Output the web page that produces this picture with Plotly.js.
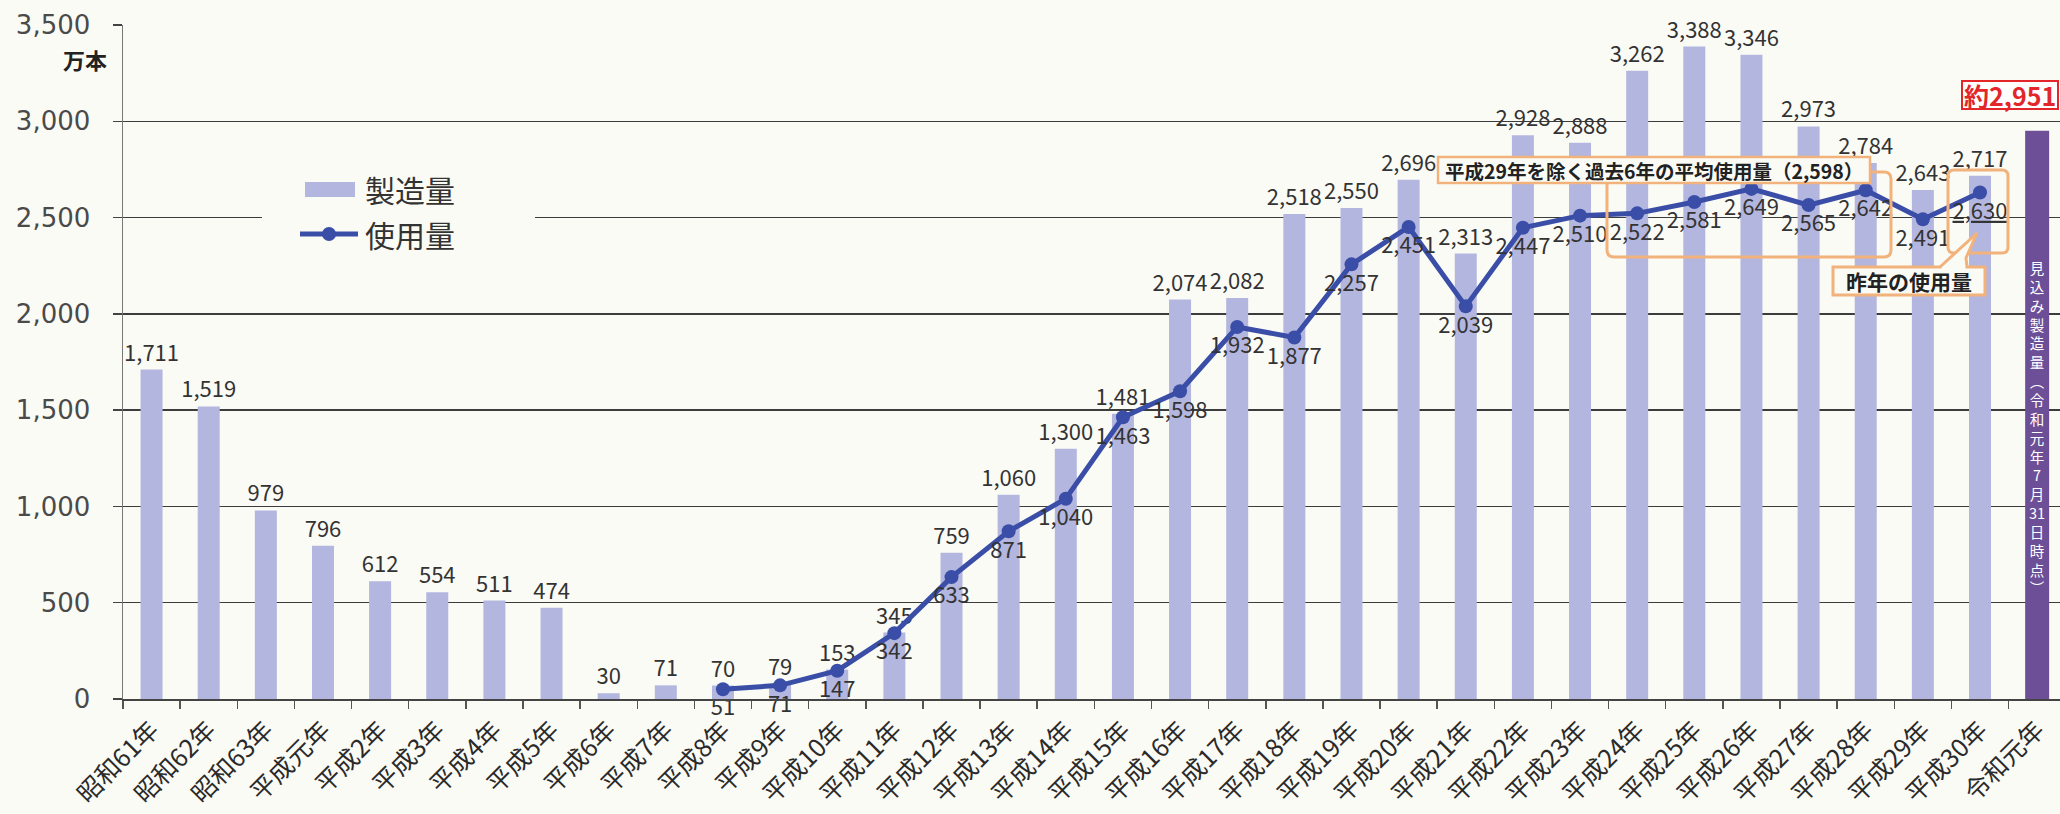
<!DOCTYPE html>
<html>
<head>
<meta charset="utf-8">
<script src="https://cdn.plot.ly/plotly-3.0.1.min.js"></script>
<style>
html,body{margin:0;padding:0;background:#fbfbf6;}
#chart{width:2060px;height:814px;}
</style>
</head>
<body>
<div id="chart"></div>
<script>
// ---- data ----
const years = ['昭和61年','昭和62年','昭和63年','平成元年','平成2年','平成3年','平成4年','平成5年',
  '平成6年','平成7年','平成8年','平成9年','平成10年','平成11年','平成12年','平成13年','平成14年',
  '平成15年','平成16年','平成17年','平成18年','平成19年','平成20年','平成21年','平成22年','平成23年',
  '平成24年','平成25年','平成26年','平成27年','平成28年','平成29年','平成30年','令和元年'];
const production = [1711,1519,979,796,612,554,511,474,30,71,70,79,153,345,759,1060,1300,1481,
  2074,2082,2518,2550,2696,2313,2928,2888,3262,3388,3346,2973,2784,2643,2717];
const forecastYear = ['令和元年'];
const forecast = [2951];
const usageYears = ['平成8年','平成9年','平成10年','平成11年','平成12年','平成13年','平成14年',
  '平成15年','平成16年','平成17年','平成18年','平成19年','平成20年','平成21年','平成22年','平成23年',
  '平成24年','平成25年','平成26年','平成27年','平成28年','平成29年','平成30年'];
const usage = [51,71,147,342,633,871,1040,1463,1598,1932,1877,2257,2451,2039,2447,2510,2522,2581,
  2649,2565,2642,2491,2630];
const yTicks = [0,500,1000,1500,2000,2500,3000,3500];
const averageText = '平成29年を除く過去6年の平均使用量（2,598）';
const forecastText = '約2,951';
const verticalChars = ['見','込','み','製','造','量','︵','令','和','元','年','7','月','31','日','時','点','︶'];

// ---- styling helpers (pixel -> paper) ----
const BG = '#fbfbf6';
const L = 123, R = 2060, T = 25, B = 699;
const fx = x => (x - L) / (R - L);
const fy = y => (B - y) / (B - T);
function P(cmds){
  return cmds.map(c => {
    if (c[0] === 'Z') return 'Z';
    let s = c[0];
    for (let i = 1; i < c.length; i += 2) s += (i>1?' ':'') + fx(c[i]).toFixed(5) + ',' + fy(c[i+1]).toFixed(5);
    return s;
  }).join(' ');
}
function roundRect(x0,y0,x1,y1,r){
  return P([['M',x0+r,y0],['L',x1-r,y0],['Q',x1,y0,x1,y0+r],['L',x1,y1-r],['Q',x1,y1,x1-r,y1],
    ['L',x0+r,y1],['Q',x0,y1,x0,y1-r],['L',x0,y0+r],['Q',x0,y0,x0+r,y0],['Z']]);
}
function rect(x0,y0,x1,y1,fill,line,lw){
  return {type:'rect',xref:'paper',yref:'paper',x0:fx(x0),x1:fx(x1),y0:fy(y1),y1:fy(y0),
    fillcolor:fill,line:{color:line||'rgba(0,0,0,0)',width:lw||0},layer:'above'};
}
const fmt = v => v.toLocaleString('en-US');

const BAR = '#b3b6de', LINE = '#3a4ea8', ORANGE = '#f2b27c', PURPLE = '#6c4f96';

const usageText = usage.map(fmt);
usageText[usageText.length-1] = '<u>' + usageText[usageText.length-1] + '</u>';

const traces = [
  {type:'bar', name:'製造量', x:years.slice(0, production.length), y:production, width:0.385,
   marker:{color:BAR}, texttemplate:'%{y:,}', textposition:'outside', constraintext:'none',
   cliponaxis:false, textfont:{size:22, color:'#333'}, hoverinfo:'x+y'},
  {type:'bar', name:'見込み製造量', x:forecastYear, y:forecast, width:0.42,
   marker:{color:PURPLE}, textposition:'none', hoverinfo:'x+y'},
  {type:'scatter', name:'使用量', mode:'lines+markers+text', x:usageYears, y:usage,
   line:{color:LINE, width:5}, marker:{size:14, color:LINE},
   text:usageText, textposition:'bottom center', textfont:{size:22, color:'#333'},
   cliponaxis:false, hoverinfo:'x+y'}
];

const shapes = [
  // legend cover and symbols
  rect(262,158,535,262,BG),
  rect(305,182,355,197,BAR),
  {type:'line',xref:'paper',yref:'paper',x0:fx(300),x1:fx(358),y0:fy(234),y1:fy(234),line:{color:LINE,width:5},layer:'above'},
  {type:'circle',xref:'paper',yref:'paper',x0:fx(322),x1:fx(336),y0:fy(241),y1:fy(227),fillcolor:LINE,line:{color:LINE,width:0},layer:'above'},
  // big rounded box (H24-H28)
  {type:'path',xref:'paper',yref:'paper',path:roundRect(1607,172,1891,257,7),line:{color:ORANGE,width:3},fillcolor:'rgba(0,0,0,0)',layer:'above'},
  // small box (H30)
  {type:'path',xref:'paper',yref:'paper',path:roundRect(1948,170,2008,253,6),line:{color:ORANGE,width:3},fillcolor:'rgba(0,0,0,0)',layer:'above'},
  // average text box
  rect(1438,157,1870,183,BG,ORANGE,2.5),
  // callout box + tail
  rect(1833,267,1985,295,BG,ORANGE,3),
  rect(1941.5,264.5,1965.5,269,BG),
  {type:'path',xref:'paper',yref:'paper',path:P([['M',1940,267],['L',1977,233],['L',1966,258],['L',1967,267]]),
   line:{color:ORANGE,width:3},fillcolor:BG,layer:'above'},
  // red forecast box
  rect(1962,81,2058,109,'#ffffff','#e2262a',2)
];

const annotations = [
  {xref:'paper',yref:'paper',x:fx(85),y:fy(59),text:'<b>万本</b>',showarrow:false,
   font:{size:22,color:'#222'},xanchor:'center',yanchor:'middle'},
  {xref:'paper',yref:'paper',x:fx(363),y:fy(189),text:'製造量',showarrow:false,
   font:{size:30,color:'#333'},xanchor:'left',yanchor:'middle'},
  {xref:'paper',yref:'paper',x:fx(363),y:fy(234),text:'使用量',showarrow:false,
   font:{size:30,color:'#333'},xanchor:'left',yanchor:'middle'},
  {xref:'paper',yref:'paper',x:fx(1654),y:fy(170),text:'<b>'+averageText+'</b>',showarrow:false,
   font:{size:19.5,color:'#222'},xanchor:'center',yanchor:'middle'},
  {xref:'paper',yref:'paper',x:fx(1909),y:fy(281),text:'<b>昨年の使用量</b>',showarrow:false,
   font:{size:21,color:'#222'},xanchor:'center',yanchor:'middle'},
  {xref:'paper',yref:'paper',x:fx(2010),y:fy(95),text:'<b>'+forecastText+'</b>',showarrow:false,
   font:{size:25,color:'#e2262a'},xanchor:'center',yanchor:'middle'},
  {xref:'paper',yref:'paper',x:fx(2037),y:fy(427),text:verticalChars.join('<br>'),showarrow:false,
   font:{size:14.5,color:'#ffffff'},xanchor:'center',yanchor:'middle'}
];

const layout = {
  width:2060, height:814,
  margin:{l:L, r:0, t:T, b:814-B, pad:0},
  paper_bgcolor:BG, plot_bgcolor:BG,
  showlegend:false, barmode:'overlay',
  font:{family:'"Noto Sans CJK JP", "Noto Sans", sans-serif', color:'#333'},
  xaxis:{type:'category', categoryorder:'array', categoryarray:years, range:[-0.5,33.4],
    tickson:'boundaries', ticks:'outside', ticklen:8, tickwidth:1.5, tickcolor:'#555',
    showline:true, linecolor:'#444', linewidth:1.5, showgrid:false, tickangle:-45,
    tickfont:{size:25, color:'#2a2a2a'}, ticklabelstandoff:5},
  yaxis:{range:[0,3500], tickvals:yTicks, tickformat:',', ticks:'outside', ticklen:9,
    tickwidth:1.5, tickcolor:'#444', showline:true, linecolor:'#777', linewidth:1.5,
    showgrid:true, gridcolor:'#3c3c3c', gridwidth:1.5, zeroline:false,
    tickfont:{family:'"DejaVu Sans", sans-serif', size:26, color:'#4a4a4a'}, ticklabelstandoff:17},
  shapes:shapes, annotations:annotations
};

Plotly.newPlot('chart', traces, layout, {displayModeBar:false, staticPlot:true});
</script>
</body>
</html>
